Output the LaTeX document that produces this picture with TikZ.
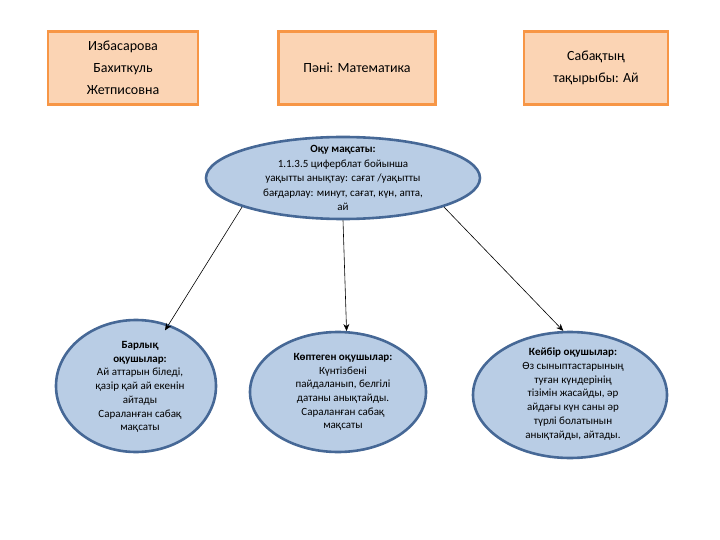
\documentclass[tikz,border=0pt]{standalone}
\usepackage{fontspec}
\setmainfont{Carlito}
\usetikzlibrary{arrows.meta,shapes.geometric}
\definecolor{boxfill}{RGB}{251,212,180}
\definecolor{boxline}{RGB}{247,150,70}
\definecolor{ellfill}{RGB}{185,205,229}
\definecolor{ellline}{RGB}{70,104,150}
\tikzset{
  infobox/.style={draw=boxline, fill=boxfill, line width=2.6pt, inner sep=0pt,
                  align=center, font=\fontsize{14}{22}\selectfont},
  goal/.style={ellipse, draw=ellline, fill=ellfill, line width=2.6pt, inner sep=0pt},
  goaltxt/.style={align=center, inner sep=0pt, font=\fontsize{11}{14.5}\selectfont},
  levtxt/.style={align=center, inner sep=0pt, font=\fontsize{11}{13.7}\selectfont},
  link/.style={-{Stealth[length=7pt,width=6pt]}, black, line width=0.6pt},
}

\begin{document}
\begin{tikzpicture}[x=1pt, y=-1pt]
  \useasboundingbox (0,0) rectangle (720,540);
  % header boxes
  \node[infobox, minimum width=150, minimum height=73] (name) at (123,68)
    {Избасарова\\Бахиткуль\\Жетписовна};
  \node[infobox, minimum width=157, minimum height=73] (subj) at (357,68)
    {Пәні: Математика};
  \node[infobox, minimum width=144, minimum height=73] (topic) at (596,68)
    {Сабақтың\\тақырыбы: Ай};
  % learning aim
  \node[goal, minimum width=274, minimum height=82] (aim) at (343,178) {};
  \node[goaltxt] (aimtxt) at (343,178)
    {\textbf{Оқу мақсаты:}\\1.1.3.5 циферблат бойынша\\уақытты анықтау: сағат /уақытты\\бағдарлау: минут, сағат, күн, апта,\\ай};
  % levels
  \node[goal, minimum width=160, minimum height=132] (all) at (136,386) {};
  \node[levtxt] (alltxt) at (140,387)
    {\textbf{Барлық}\\\textbf{оқушылар:}\\Ай аттарын біледі,\\қазір қай ай екенін\\айтады\\Сараланған сабақ\\мақсаты};
  \node[goal, minimum width=176, minimum height=120] (most) at (338,392) {};
  \node[levtxt] (mosttxt) at (343,392)
    {\textbf{Көптеген оқушылар:}\\Күнтізбені\\пайдаланып, белгілі\\датаны анықтайды.\\Сараланған сабақ\\мақсаты};
  \node[goal, minimum width=194, minimum height=126] (some) at (570,395) {};
  \node[levtxt] (sometxt) at (573,394)
    {\textbf{Кейбір оқушылар:}\\Өз сыныптастарының\\туған күндерінің\\тізімін жасайды, әр\\айдағы күн саны әр\\түрлі болатынын\\анықтайды, айтады.};
  % arrows
  \draw[link, shorten >=-7pt] (aim.196) -- (all.62);
  \draw[link] (aim.south) -- (most.82);
  \draw[link] (aim.344) -- (some.96);
\end{tikzpicture}
\end{document}
